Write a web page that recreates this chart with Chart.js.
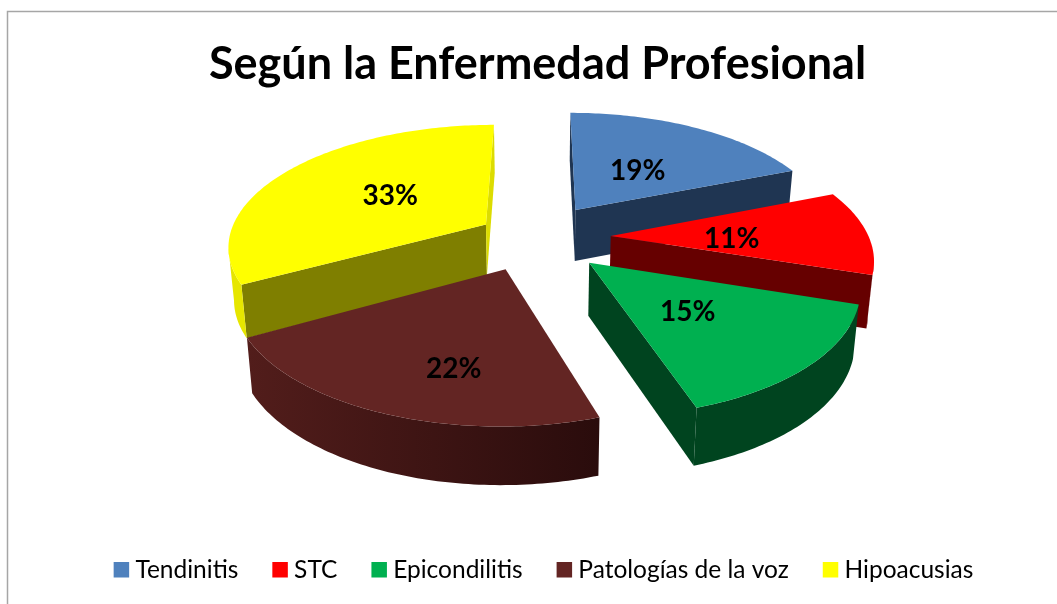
<!DOCTYPE html>
<html><head><meta charset="utf-8">
<style>html,body{margin:0;padding:0;background:#fff}#w{width:1057px;height:604px;position:relative}</style>
<script src="https://cdn.jsdelivr.net/npm/chart.js@4"></script>
</head><body><div id="w"><canvas id="c"></canvas></div>
<script>
const categories = ["Tendinitis","STC","Epicondilitis","Patologías de la voz","Hipoacusias"];
const percentages = [19,11,15,22,33];
const topColors  = ["#4F81BD","#FF0000","#00B050","#632523","#FFFF00"];
const faceColors = ["#1F3552","#660000","#00441F","#3A1513","#7F7F00"];
const endFaceColors = ["#1F3552","#660000","#00441F","#3A1513","#DCDC00"];
const wallStart  = ["#1F3552","#660000","#00441F","#2A0C0C","#E6E600"];
const wallEnd    = ["#1F3552","#660000","#00441F","#521D1B","#E6E600"];
const labelNudge = [[1,2],[1,5],[0,5],[-4,37],[9,2]];
const sliceNudge = [[0,-2],[4,0],[1,3],[-6,2],[6,3]];
const view = {xc:538,W:258,yv:-502,H:739,p:0.163,depth:52,shrink:0.982,explodeX:0.267,explodeY:0.26,labelAt:0.75};

function hex(c){return [1,3,5].map(i=>parseInt(c.substr(i,2),16));}
function mix(a,b,t){const A=hex(a),B=hex(b);return `rgb(${A.map((v,i)=>Math.round(v+(B[i]-v)*t)).join(",")})`;}
function project(X,Y,d){
  const s=1/(1-view.p*Y),n=d||[0,0];
  return {x:view.xc+view.W*X*s+n[0],y:view.yv+view.H*s+n[1],s};
}
function drop(P){
  return {x:view.xc+(P.x-view.xc)*view.shrink,y:P.y+view.depth*(0.5+0.5*P.s)};
}
function cross(a,b,c,d){return (b.x-a.x)*(d.y-c.y)-(b.y-a.y)*(d.x-c.x);}
function poly(ctx,pts,col){
  ctx.beginPath();pts.forEach((p,i)=>i?ctx.lineTo(p.x,p.y):ctx.moveTo(p.x,p.y));ctx.closePath();
  ctx.fillStyle=col;ctx.fill();
}
const pie3d={
  id:"pie3d",
  afterLayout(chart){
    chart.legend.left+=9;chart.legend.right+=9;
  },
  beforeDraw(chart){
    const c=chart.ctx;c.save();c.strokeStyle="#A6A6A6";c.lineWidth=1.5;c.beginPath();
    c.moveTo(7.5,604);c.lineTo(7.5,11.5);c.lineTo(1057,11.5);c.stroke();c.restore();
  },
  beforeDatasetDraw(chart){
    const ctx=chart.ctx,arcs=chart.getDatasetMeta(0).data;
    const slices=arcs.map((el,i)=>{
      const mid=(el.startAngle+el.endAngle)/2;
      return {i,el,mid,ox:view.explodeX*Math.cos(mid),oy:view.explodeY*Math.sin(mid)};
    }).sort((a,b)=>a.oy-b.oy);
    ctx.save();
    for(const S of slices){
      const {i,el,mid,ox,oy}=S,n=Math.max(8,Math.round((el.endAngle-el.startAngle)*60)),d=sliceNudge[i];
      const tip=project(ox,oy,d),rim=[];
      for(let k=0;k<=n;k++){
        const a=el.startAngle+(el.endAngle-el.startAngle)*k/n;
        rim.push(project(ox+Math.cos(a),oy+Math.sin(a),d));
      }
      const inner=project(ox+0.5*Math.cos(mid),oy+0.5*Math.sin(mid),d);
      const D0={x:0,y:0},D1={x:0,y:1};
      [[rim[0],faceColors[i]],[rim[n],endFaceColors[i]]].forEach(([E,col])=>{
        if(cross(tip,E,D0,D1)*cross(tip,E,tip,inner)<0)poly(ctx,[tip,E,drop(E),drop(tip)],col);
      });
      // outer wall: contiguous front-facing runs, one polygon each
      let k=0;
      while(k<n){
        const front=j=>cross(rim[j],rim[j+1],D0,D1)*cross(rim[j],rim[j+1],rim[j],tip)<0;
        if(!front(k)){k++;continue;}
        let e=k;while(e<n&&front(e))e++;
        const run=rim.slice(k,e+1);
        const g=ctx.createLinearGradient(run[0].x,0,run[run.length-1].x,0);
        g.addColorStop(0,mix(wallStart[i],wallEnd[i],k/n));
        g.addColorStop(1,mix(wallStart[i],wallEnd[i],e/n));
        poly(ctx,run.concat(run.map(drop).reverse()),g);
        k=e;
      }
      poly(ctx,[tip].concat(rim),topColors[i]);
    }
    ctx.fillStyle="#000";ctx.font="bold 28px Lato";ctx.textAlign="center";ctx.textBaseline="middle";
    arcs.forEach((el,i)=>{
      const mid=(el.startAngle+el.endAngle)/2;
      const P=project(view.labelAt*Math.cos(mid),view.labelAt*Math.sin(mid));
      ctx.fillText(percentages[i]+"%",P.x+labelNudge[i][0],P.y+labelNudge[i][1]);
    });
    ctx.restore();
    return false;
  }
};
new Chart(document.getElementById("c"),{
  type:"pie",
  data:{labels:categories,datasets:[{data:percentages,backgroundColor:topColors,borderWidth:0}]},
  plugins:[pie3d],
  options:{
    responsive:true,maintainAspectRatio:false,animation:false,
    layout:{padding:{left:18,right:0,top:37,bottom:12}},
    plugins:{
      tooltip:{enabled:false},
      title:{display:true,text:"Según la Enfermedad Profesional",color:"#000",
        font:{family:"Lato",size:45,weight:"bold"},padding:{top:0,bottom:10}},
      legend:{position:"bottom",labels:{usePointStyle:true,pointStyle:"rect",boxWidth:3.5,boxHeight:15.5,
        padding:40,color:"#000",font:{family:"Lato",size:24.5}}}
    }
  }
});
</script></body></html>
